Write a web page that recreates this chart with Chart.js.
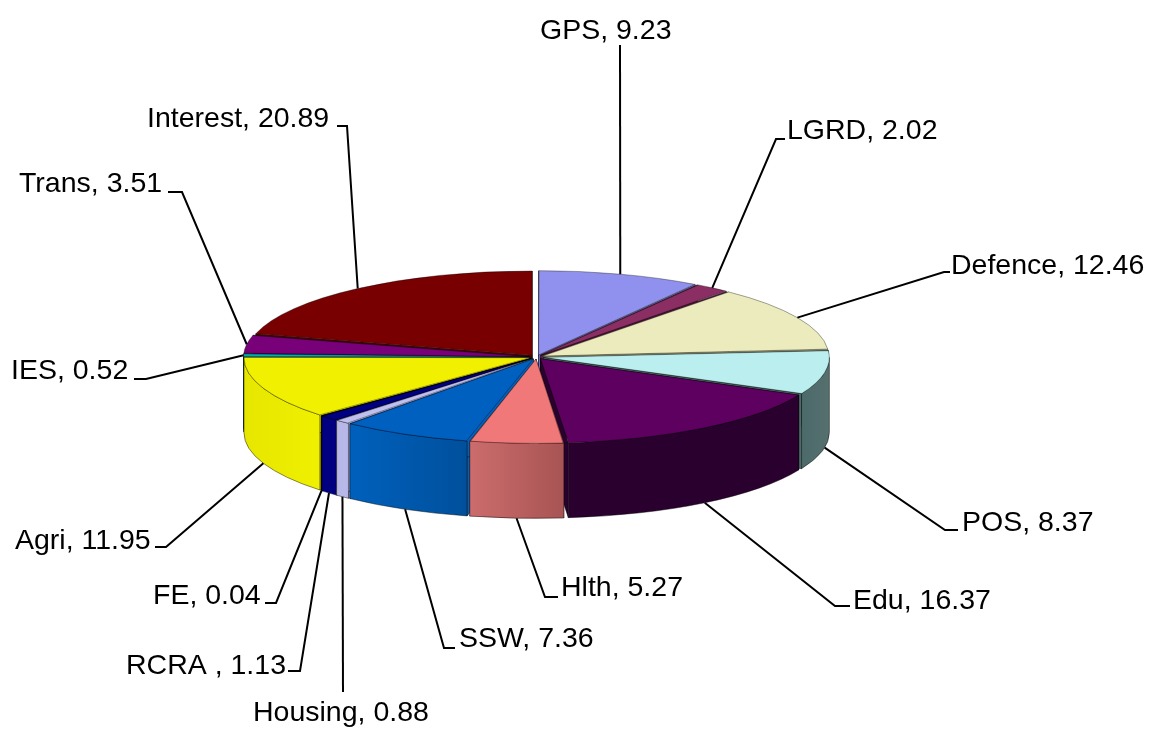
<!DOCTYPE html>
<html><head><meta charset="utf-8">
<style>html,body{margin:0;padding:0;background:#fff}canvas{display:block}</style>
<script src="https://cdn.jsdelivr.net/npm/chart.js@4"></script>
</head><body><canvas id="c" width="1149" height="729"></canvas>
<script>
const categories=["GPS","LGRD","Defence","POS","Edu","Hlth","SSW","Housing","RCRA","FE","Agri","IES","Trans","Interest"];
const shares=[9.23,2.02,12.46,8.37,16.37,5.27,7.36,0.88,1.13,0.04,11.95,0.52,3.51,20.89];
const labelTexts=["GPS, 9.23","LGRD, 2.02","Defence, 12.46","POS, 8.37","Edu, 16.37","Hlth, 5.27","SSW, 7.36","Housing, 0.88","RCRA , 1.13","FE, 0.04","Agri, 11.95","IES, 0.52","Trans, 3.51","Interest, 20.89"];
const topColors=["#9090ee","#8b2e63","#ebebbd","#bbeeee","#5e0060","#f07878","#0060c0","#c0c0ee","#000080","#202020","#f0f000","#00c0c0","#780078","#780000"];
const wallLeft=["#7070c0","#6a2050","#c0c090","#4c6a6a","#2a002e","#cc6c6c","#0060bc","#b8b8e8","#000080","#101010","#e6e600","#009090","#600060","#600000"];
const wallRight=["#7070c0","#6a2050","#c0c090","#566f6f","#2a002e","#a85454","#00509c","#b8b8e8","#000080","#101010","#f0f000","#009090","#600060","#600000"];
// label layout: text left x, text middle y, then elbow points of the leader line
const labelX=[540,787,951,962,853,561,459,253,126,153,15,11,19,147];
const labelY=[31,131,266,523,601,588,639,713,666,596,541,371,184,119];
const leaderElbows=[[[620,45]],[[776,139],[785,139]],[[944,272],[950,272]],[[945,530],[958,530]],[[835,606],[850,606]],[[545,597],[558,597]],[[444,648],[455,648]],[[343,692]],[[300,671],[288,671]],[[276,603],[265,603]],[[166,547],[155,547]],[[146,379],[134,379]],[[182,192],[168,192]],[[347,126],[337,126]]];
const centerY=357, squash=0.295, depth=75;

function growth(el){ // Chart.js enlarges narrow offset arcs by this much when it draws them
  const off=(el.options.offset||0)/4;
  return off*(1-Math.sin(Math.min(Math.PI,el.endAngle-el.startAngle)));
}
function geom(el){
  const mid=(el.startAngle+el.endAngle)/2, off=(el.options.offset||0)/4;
  return {mid,r:el.outerRadius+growth(el),ox:el.x+Math.cos(mid)*off,oy:centerY+squash*Math.sin(mid)*off};
}
const pie3d={
  id:'pie3d',
  beforeDatasetDraw(chart){
    const ctx=chart.ctx, els=chart.getDatasetMeta(0).data;
    els.forEach(el=>{ if(!el._evened){ el.outerRadius-=growth(el); el._evened=true; } });
    const order=els.map((e,i)=>i).sort((a,b)=>Math.sin(geom(els[a]).mid)-Math.sin(geom(els[b]).mid));
    ctx.save();
    ctx.lineWidth=1; ctx.strokeStyle='rgba(0,0,0,0.45)'; ctx.lineJoin='round';
    for(const i of order){
      const el=els[i], g=geom(el), R=g.r, ry=R*squash;
      const px=t=>g.ox+R*Math.cos(t), py=t=>g.oy+ry*Math.sin(t);
      for(const t of [el.startAngle,el.endAngle]){
        ctx.beginPath();ctx.moveTo(g.ox,g.oy);ctx.lineTo(px(t),py(t));ctx.lineTo(px(t),py(t)+depth);ctx.lineTo(g.ox,g.oy+depth);ctx.closePath();
        ctx.fillStyle=wallLeft[i];ctx.fill();ctx.stroke();
      }
      const a=Math.max(el.startAngle,0), b=Math.min(el.endAngle,Math.PI);
      if(b>a){
        const xs=[px(a),px(b)];
        if(a<=0)xs.push(px(0)); if(b>=Math.PI)xs.push(px(Math.PI));
        const gr=ctx.createLinearGradient(Math.min(...xs),0,Math.max(...xs),0);
        gr.addColorStop(0,wallLeft[i]);gr.addColorStop(1,wallRight[i]);
        ctx.beginPath();ctx.ellipse(g.ox,g.oy,R,ry,0,a,b);ctx.ellipse(g.ox,g.oy+depth,R,ry,0,b,a,true);ctx.closePath();
        ctx.fillStyle=gr;ctx.fill();ctx.stroke();
      }
    }
    ctx.restore();
    ctx.save();
    const c=els[0].y;
    ctx.translate(0,centerY);ctx.scale(1,squash);ctx.translate(0,-c);
  },
  afterDatasetDraw(chart){chart.ctx.restore();},
  afterDraw(chart){
    const ctx=chart.ctx, els=chart.getDatasetMeta(0).data;
    ctx.save();
    ctx.strokeStyle='#000';ctx.lineWidth=2;ctx.fillStyle='#000';
    ctx.font='28.5px "Liberation Sans", Arial, sans-serif';ctx.textBaseline='middle';ctx.textAlign='left';
    els.forEach((el,i)=>{
      const g=geom(el), s=Math.sin(g.mid);
      const ax=g.ox+g.r*Math.cos(g.mid), ay=g.oy+g.r*squash*s+(s>0.05?depth:0);
      ctx.beginPath();ctx.moveTo(ax,ay);
      for(const p of leaderElbows[i])ctx.lineTo(p[0],p[1]);
      ctx.stroke();
      ctx.fillText(labelTexts[i],labelX[i],labelY[i]);
    });
    ctx.restore();
  }
};
new Chart(document.getElementById('c'),{
  type:'pie',
  data:{labels:categories,datasets:[{data:shares,backgroundColor:topColors,borderColor:'rgba(0,0,0,0.55)',borderWidth:1,borderJoinStyle:'round',offset:28,clip:false}]},
  options:{responsive:false,animation:false,radius:286,layout:{padding:{right:76}},
    plugins:{legend:{display:false},tooltip:{enabled:false}}},
  plugins:[pie3d]
});
</script></body></html>
